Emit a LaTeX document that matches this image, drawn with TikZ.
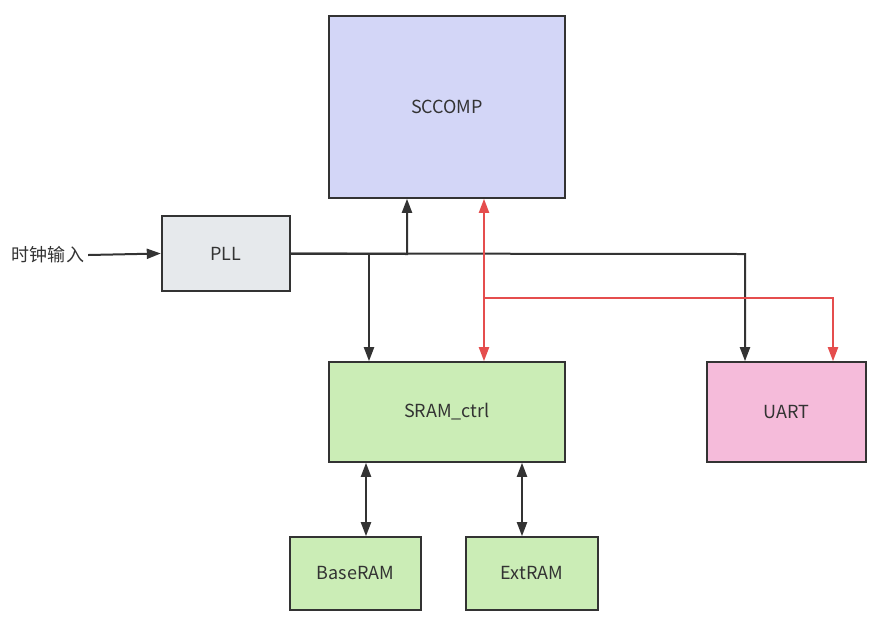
\documentclass[tikz,border=0pt]{standalone}
\usepackage{fontspec}
\setmainfont{Noto Sans CJK SC}
\usetikzlibrary{arrows.meta}

\definecolor{lineblack}{HTML}{333333}
\definecolor{linered}{HTML}{E54D4D}
\definecolor{cpublue}{HTML}{D3D6F7}
\definecolor{pllgray}{HTML}{E6E9EC}
\definecolor{ramgreen}{HTML}{CBEDB6}
\definecolor{uartpink}{HTML}{F5BBDA}

\tikzset{
  block/.style={draw=lineblack, line width=1.6pt, text=lineblack, font=\fontsize{18}{20}\selectfont, inner sep=0pt},
  wire/.style={draw=lineblack, line width=2pt},
  redwire/.style={draw=linered, line width=2pt}
}

\begin{document}
\begin{tikzpicture}[x=1pt, y=-1pt, >={Triangle[length=14pt,width=10pt]}]
                        \useasboundingbox (0,0) rectangle (875,633);
                        % blocks
                        \node[block, fill=cpublue, minimum width=236pt, minimum height=182pt] (sccomp) at (447,107) {SCCOMP};
                        \node[block, fill=pllgray, line width=2.4pt, minimum width=128pt, minimum height=75pt] (pll) at (226,253.5) {PLL};
                        \node[block, fill=ramgreen, minimum width=236pt, minimum height=100pt] (sram) at (447,412) {SRAM\_ctrl};
                        \node[block, fill=uartpink, minimum width=159pt, minimum height=100pt] (uart) at (786.5,412) {UART};
                        \node[block, fill=ramgreen, minimum width=131pt, minimum height=73pt] (baseram) at (355.5,573.5) {BaseRAM};
                        \node[block, fill=ramgreen, minimum width=132pt, minimum height=73pt] (extram) at (532,573.5) {ExtRAM};
                        \node[text=lineblack, font=\fontsize{18}{20}\selectfont, inner sep=4pt] (clkin) at (48,255) {时钟输入};
                        % junctions
                        \coordinate (tocpu) at (407,254);
                        \coordinate (toctrl) at (369,254);
                        \coordinate (touart) at (745,254);
                        \coordinate (busx) at (484,0);
                        \coordinate (busin) at (484,298);
                        \coordinate (busuart) at (833,298);
                        \coordinate (basex) at (366,0);
                        \coordinate (extx) at (522,0);
                        % clock
                        \draw[wire, ->] (clkin.east) -- (pll.west);
                        \draw[wire, ->] (pll.east) -- (tocpu) -- (tocpu |- sccomp.south);
                        \draw[wire, ->] (pll.east) -| (sram.north -| toctrl);
                        \draw[wire, ->] (pll.east) -- (touart) -- (touart |- uart.north);
                        % bus
                        \draw[redwire, <->] (sccomp.south -| busx) -- (sram.north -| busx);
                        \draw[redwire, ->] (busin) -- (busuart) -- (busuart |- uart.north);
                        % memory
                        \draw[wire, <->] (sram.south -| basex) -- (baseram.north -| basex);
                        \draw[wire, <->] (sram.south -| extx) -- (extram.north -| extx);
                \end{tikzpicture}
\end{document}
